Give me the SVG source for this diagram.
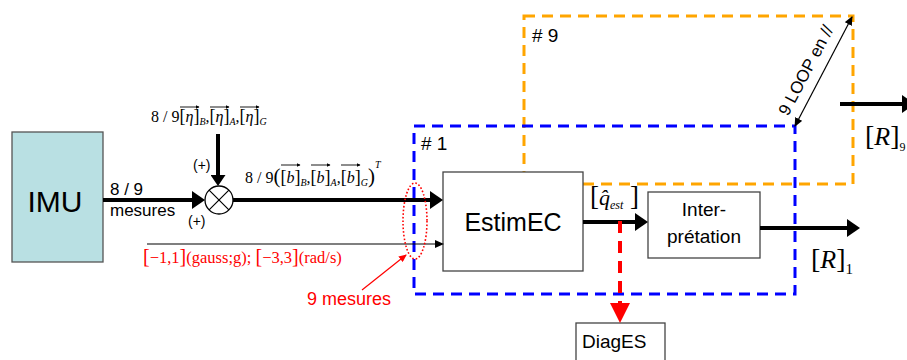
<svg xmlns="http://www.w3.org/2000/svg" width="907" height="360" viewBox="0 0 907 360">
<style>
.box{fill:#fff;stroke:#444;stroke-width:1.3}
.sans{font-family:"Liberation Sans",Arial,sans-serif;fill:#000}
.serif{font-family:"Liberation Serif","Times New Roman",serif;fill:#000}
.it{font-style:italic}
.thick{stroke:#000;stroke-width:4;fill:none}
.thin{stroke:#000;stroke-width:1.2;fill:none}
.vec{stroke:#000;stroke-width:0.9;fill:none}
.red{fill:#ff0000}
</style>
<defs>
<marker id="ah" markerUnits="userSpaceOnUse" viewBox="0 0 13 18" markerWidth="13" markerHeight="18" refX="1" refY="9" orient="auto"><path d="M0,0 L13,9 L0,18 z" fill="#000"/></marker>
<marker id="ahm" markerUnits="userSpaceOnUse" viewBox="0 0 11 15" markerWidth="11" markerHeight="15" refX="1" refY="7.5" orient="auto"><path d="M0,0 L11,7.5 L0,15 z" fill="#000"/></marker>
<marker id="ahs" markerUnits="userSpaceOnUse" viewBox="0 0 9 8" markerWidth="9" markerHeight="8" refX="1" refY="4" orient="auto"><path d="M0,0 L9,4 L0,8 z" fill="#000"/></marker>
<marker id="ahd" markerUnits="userSpaceOnUse" viewBox="0 0 9 8" markerWidth="9" markerHeight="8" refX="8" refY="4" orient="auto-start-reverse"><path d="M0,0 L9,4 L0,8 z" fill="#000"/></marker>
<marker id="ahr" markerUnits="userSpaceOnUse" viewBox="0 0 20 20" markerWidth="20" markerHeight="20" refX="1" refY="10" orient="auto"><path d="M0,0 L20,10 L0,20 z" fill="#ff0000"/></marker>
<marker id="ahrs" markerUnits="userSpaceOnUse" viewBox="0 0 8 7" markerWidth="8" markerHeight="7" refX="7" refY="3.5" orient="auto"><path d="M0,0 L8,3.5 L0,7 z" fill="#ff0000"/></marker>
<marker id="vh" markerUnits="userSpaceOnUse" viewBox="0 0 4 4" markerWidth="4" markerHeight="4" refX="3.5" refY="2" orient="auto"><path d="M0,0 L4,2 L0,4 z" fill="#000"/></marker>
</defs>

<g id="loop9">
<rect x="524" y="16" width="329" height="168" fill="none" stroke="#ffa500" stroke-width="3" stroke-dasharray="11 7"/>
<text class="sans" x="532" y="42" font-size="19"># 9</text>
</g>
<g id="loop1">
<rect x="414" y="126" width="381" height="168" fill="none" stroke="#0000ff" stroke-width="3" stroke-dasharray="11 7"/>
<text class="sans" x="421" y="150" font-size="19"># 1</text>
</g>

<g id="imu">
<rect x="12" y="132" width="91" height="130" fill="#b9e0e3" stroke="#555" stroke-width="1.3"/>
<text class="sans" x="55" y="212" font-size="30" text-anchor="middle">IMU</text>
</g>

<g id="sum">
<circle cx="219" cy="200" r="14" fill="#fff" stroke="#000" stroke-width="1.3"/>
<path d="M209.1,190.1 L228.9,209.9 M228.9,190.1 L209.1,209.9" stroke="#000" stroke-width="1.2"/>
</g>

<g id="estimec">
<rect class="box" x="443" y="172" width="140" height="99"/>
<text class="sans" x="513" y="231" font-size="25" text-anchor="middle">EstimEC</text>
</g>

<g id="interpretation">
<rect class="box" x="648" y="192" width="112" height="66"/>
<text class="sans" x="704" y="216" font-size="19" text-anchor="middle">Inter-</text>
<text class="sans" x="704" y="243" font-size="19" text-anchor="middle">prétation</text>
</g>

<g id="diages">
<rect class="box" x="576" y="323" width="89" height="45"/>
<text class="sans" x="582" y="348" font-size="19">DiagES</text>
</g>

<g id="connectors">
<line class="thick" x1="103" y1="200" x2="193" y2="200" marker-end="url(#ah)"/>
<line class="thick" x1="218" y1="134" x2="218" y2="176" marker-end="url(#ahm)"/>
<line class="thick" x1="233" y1="200" x2="431" y2="200" marker-end="url(#ah)"/>
<line class="thin" x1="147" y1="244" x2="436" y2="244" marker-end="url(#ahs)"/>
<line class="thick" x1="583" y1="222" x2="636" y2="222" marker-end="url(#ah)"/>
<line class="thick" x1="760" y1="228" x2="848" y2="228" marker-end="url(#ah)"/>
<line class="thick" x1="840" y1="104" x2="903" y2="104" marker-end="url(#ah)"/>
<line x1="620" y1="221" x2="620" y2="304" stroke="#ff0000" stroke-width="4" stroke-dasharray="12 8" marker-end="url(#ahr)"/>
<line class="thin" x1="795" y1="126" x2="852" y2="17" marker-start="url(#ahd)" marker-end="url(#ahd)"/>
<ellipse cx="415" cy="221" rx="12" ry="38" fill="none" stroke="#ff0000" stroke-width="1.6" stroke-dasharray="1.6 2"/>
<line x1="362" y1="290" x2="406" y2="255" stroke="#ff0000" stroke-width="1.2" marker-end="url(#ahrs)"/>
</g>

<g id="labels">
<text class="sans" x="110" y="195" font-size="17">8 / 9</text>
<text class="sans" x="110" y="216" font-size="17">mesures</text>
<text class="sans" x="193" y="170" font-size="14">(+)</text>
<text class="sans" x="188" y="226" font-size="14">(+)</text>

<text class="serif" x="151" y="122" font-size="16">8 / 9<tspan font-size="18">[</tspan><tspan class="it">η</tspan><tspan font-size="18">]</tspan><tspan font-size="10" class="it" dy="3">B</tspan><tspan dy="-3">,</tspan><tspan font-size="18">[</tspan><tspan class="it">η</tspan><tspan font-size="18">]</tspan><tspan font-size="10" class="it" dy="3">A</tspan><tspan dy="-3">,</tspan><tspan font-size="18">[</tspan><tspan class="it">η</tspan><tspan font-size="18">]</tspan><tspan font-size="10" class="it" dy="3">G</tspan></text>
<line class="vec" x1="180" y1="107" x2="199" y2="107" marker-end="url(#vh)"/>
<line class="vec" x1="210" y1="107" x2="229" y2="107" marker-end="url(#vh)"/>
<line class="vec" x1="240" y1="107" x2="259" y2="107" marker-end="url(#vh)"/>

<text class="serif" x="245" y="183" font-size="16">8 / 9<tspan font-size="21">(</tspan><tspan font-size="18">[</tspan><tspan class="it">b</tspan><tspan font-size="18">]</tspan><tspan font-size="10" class="it" dy="3">B</tspan><tspan dy="-3">,</tspan><tspan font-size="18">[</tspan><tspan class="it">b</tspan><tspan font-size="18">]</tspan><tspan font-size="10" class="it" dy="3">A</tspan><tspan dy="-3">,</tspan><tspan font-size="18">[</tspan><tspan class="it">b</tspan><tspan font-size="18">]</tspan><tspan font-size="10" class="it" dy="3">G</tspan><tspan dy="-3" font-size="21">)</tspan><tspan font-size="10" class="it" dy="-15">T</tspan></text>
<line class="vec" x1="281" y1="165" x2="300" y2="165" marker-end="url(#vh)"/>
<line class="vec" x1="311" y1="165" x2="330" y2="165" marker-end="url(#vh)"/>
<line class="vec" x1="341" y1="165" x2="360" y2="165" marker-end="url(#vh)"/>

<text class="serif red" x="143" y="263" font-size="16.5"><tspan font-size="20">[</tspan>−1,1<tspan font-size="20">]</tspan>(gauss;g); <tspan font-size="20">[</tspan>−3,3<tspan font-size="20">]</tspan>(rad/s)</text>
<text class="sans red" x="307" y="305" font-size="18">9 mesures</text>

<text class="serif" y="205" font-size="27"><tspan x="590">[</tspan><tspan class="it" font-size="22">q̂</tspan><tspan class="it" font-size="12" dy="4">est</tspan><tspan dy="-4"> ]</tspan></text>

<text class="serif" y="268" font-size="28"><tspan x="811">[</tspan><tspan class="it" font-size="26">R</tspan>]<tspan font-size="15" dy="6">1</tspan></text>
<text class="serif" y="145" font-size="28"><tspan x="865">[</tspan><tspan class="it" font-size="26">R</tspan>]<tspan font-size="12" dy="6">9</tspan></text>

<text class="sans" font-size="17" text-anchor="middle" transform="translate(811,73) rotate(-62.2)">9 LOOP en //</text>
</g>
</svg>
